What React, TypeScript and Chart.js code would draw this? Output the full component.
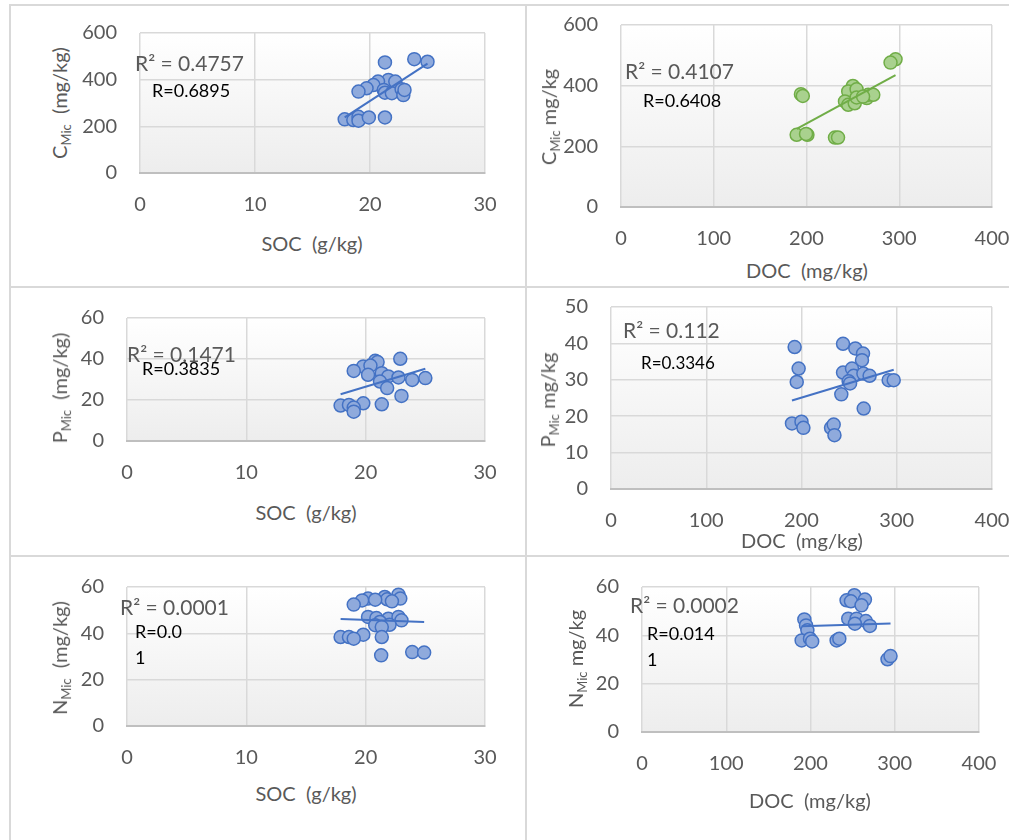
import React, { useEffect, useRef } from "react";
import { Chart, registerables } from "chart.js";

Chart.register(...registerables);

// ---- data ----
const SOC_C_X = [21.3, 23.85, 25.0, 21.6, 22.2, 20.7, 20.3, 19.7, 19.0, 21.2, 21.3, 21.9, 22.75, 22.9, 23.0, 17.8, 18.55, 19.0, 19.0, 19.9, 21.3];
const CMIC_SOC_Y = [474, 488, 477, 399, 392, 392, 377, 363, 349, 356, 344, 342, 359, 334, 356, 230, 227, 241, 224, 238, 238];

const DOC_C_X = [296, 290.6, 194, 196, 189.4, 201, 199.5, 230.7, 234, 250, 245, 254, 241.5, 245, 252, 254, 265, 266.5, 272, 261];
const CMIC_DOC_Y = [487, 476, 372, 366, 238, 238, 241, 229, 229, 399, 381, 388, 348, 337, 342, 361, 359, 370, 370, 364];

const SOC_P_X = [22.9, 20.8, 21.0, 19.8, 20.4, 19.0, 20.2, 21.35, 21.9, 22.75, 23.9, 25.0, 21.2, 21.8, 23.0, 21.35, 19.8, 17.9, 18.6, 19.0, 19.0];
const PMIC_SOC_Y = [40.1, 39.1, 38.5, 36.4, 36.8, 34.2, 32.3, 33.1, 31.5, 31.0, 29.8, 30.7, 29.0, 25.8, 22.0, 17.9, 18.4, 17.3, 17.6, 16.3, 14.3];

const DOC_P_X = [192.8, 243.6, 256.5, 264.6, 263.5, 197, 243.6, 253, 254.8, 249.5, 251, 265, 271.5, 291.5, 296.8, 195, 241.8, 265.3, 190, 200, 202, 231, 233.8, 234.6];
const PMIC_DOC_Y = [39.0, 39.9, 38.6, 37.2, 35.4, 33.1, 32.0, 33.1, 31.1, 29.6, 29.0, 31.7, 31.1, 29.9, 29.9, 29.4, 26.0, 22.1, 18.0, 18.5, 16.8, 16.8, 17.7, 14.8];

const SOC_N_X = [22.75, 22.9, 21.6, 21.8, 20.2, 19.7, 20.8, 19.0, 22.2, 20.2, 20.9, 21.9, 22.75, 23.0, 21.2, 20.8, 22.0, 21.35, 21.35, 19.8, 17.9, 18.6, 19.0, 21.3, 23.9, 24.9];
const NMIC_SOC_Y = [56.7, 55.0, 55.7, 54.7, 55.0, 54.2, 54.5, 52.4, 53.8, 47.1, 46.6, 46.3, 47.1, 45.6, 44.9, 43.5, 43.7, 42.7, 38.4, 39.4, 38.4, 38.4, 37.7, 30.5, 31.9, 31.7];

const DOC_N_X = [252, 242.8, 248, 264.6, 260.6, 192.7, 244.8, 254.7, 265.7, 252.7, 270.5, 194.7, 196.3, 189.5, 199.4, 202, 231, 234.2, 291.4, 295];
const NMIC_DOC_Y = [56.6, 54.5, 54.1, 54.8, 52.4, 46.6, 46.9, 46.9, 45.9, 44.8, 43.9, 44.1, 42.1, 37.9, 38.6, 37.5, 37.9, 38.6, 30.1, 31.4];

const SOC_TICKS = { min: 0, max: 30, step: 10 };
const DOC_TICKS = { min: 0, max: 400, step: 100 };
const C_TICKS = { min: 0, max: 600, step: 200 };
const P_TICKS_SOC = { min: 0, max: 60, step: 20 };
const P_TICKS_DOC = { min: 0, max: 50, step: 10 };
const N_TICKS = { min: 0, max: 60, step: 20 };

const R2_LABELS = ["R² = 0.4757", "R² = 0.4107", "R² = 0.1471", "R² = 0.112", "R² = 0.0001", "R² = 0.0002"];
const R_LABELS = [["R=0.6895"], ["R=0.6408"], ["R=0.3835"], ["R=0.3346"], ["R=0.0", "1"], ["R=0.014", "1"]];
const X_TITLES = ["SOC  (g/kg)", "DOC  (mg/kg)", "SOC  (g/kg)", "DOC  (mg/kg)", "SOC  (g/kg)", "DOC  (mg/kg)"];
const Y_LETTERS = ["C", "C", "P", "P", "N", "N"];
const Y_UNITS = ["  (mg/kg)", " mg/kg", "  (mg/kg)", " mg/kg", "  (mg/kg)", " mg/kg"];

const BLUE = { fill: "#8FAADC", border: "#4472C4" };
const GREEN = { fill: "#A9D18E", border: "#70AD47" };

const FONT = 'Lato, "Open Sans", sans-serif';
const GRAY = "#595959";

type Panel = {
  xs: number[]; ys: number[]; xt: any; yt: any; color: any;
  plot: [number, number, number, number]; // L T R B
  r2: [number, number, number];
  r: [number, number, number, number];
  xTitle: [number, number];
  yTitle: [number, number];
};

const PANELS: Panel[] = [
  { xs: SOC_C_X, ys: CMIC_SOC_Y, xt: SOC_TICKS, yt: C_TICKS, color: BLUE, plot: [140, 33, 485, 173], r2: [135, 62, 21], r: [152, 90, 18, 0], xTitle: [312, 243], yTitle: [61, 103] },
  { xs: DOC_C_X, ys: CMIC_DOC_Y, xt: DOC_TICKS, yt: C_TICKS, color: GREEN, plot: [621, 25, 992, 207], r2: [625, 70, 21], r: [643, 100, 18, 0], xTitle: [807, 270], yTitle: [550, 117] },
  { xs: SOC_P_X, ys: PMIC_SOC_Y, xt: SOC_TICKS, yt: P_TICKS_SOC, color: BLUE, plot: [127, 318, 485, 441], r2: [127, 353, 21], r: [142, 368, 18, 0], xTitle: [306, 512], yTitle: [61, 388] },
  { xs: DOC_P_X, ys: PMIC_DOC_Y, xt: DOC_TICKS, yt: P_TICKS_DOC, color: BLUE, plot: [611, 307, 992, 489], r2: [623, 329, 21], r: [641, 362, 17, 0], xTitle: [802, 540], yTitle: [549, 400] },
  { xs: SOC_N_X, ys: NMIC_SOC_Y, xt: SOC_TICKS, yt: N_TICKS, color: BLUE, plot: [127, 587, 485, 726], r2: [120, 606, 21], r: [135, 631, 18, 26], xTitle: [306, 793], yTitle: [61, 658] },
  { xs: DOC_N_X, ys: NMIC_DOC_Y, xt: DOC_TICKS, yt: N_TICKS, color: BLUE, plot: [642, 587, 979, 732], r2: [630, 604, 21], r: [647, 633, 18, 26], xTitle: [810, 800], yTitle: [577, 659] },
];

const PAD_L = 60, PAD_T = 40, PAD_R = 50, PAD_B = 50;

function fit(xs: number[], ys: number[]) {
  const n = xs.length;
  const mx = xs.reduce((a, b) => a + b, 0) / n;
  const my = ys.reduce((a, b) => a + b, 0) / n;
  let sxy = 0, sxx = 0;
  for (let i = 0; i < n; i++) { sxy += (xs[i] - mx) * (ys[i] - my); sxx += (xs[i] - mx) ** 2; }
  const b = sxy / sxx;
  const a = my - b * mx;
  const x0 = Math.min(...xs), x1 = Math.max(...xs);
  return [{ x: x0, y: a + b * x0 }, { x: x1, y: a + b * x1 }];
}

const bgPlugin = {
  id: "plotBg",
  beforeDraw(chart: any) {
    const { ctx, chartArea: ca } = chart;
    const g = ctx.createLinearGradient(0, ca.top, 0, ca.bottom);
    g.addColorStop(0, "#ffffff");
    g.addColorStop(1, "#ededed");
    ctx.save();
    ctx.fillStyle = g;
    ctx.fillRect(ca.left, ca.top, ca.right - ca.left, ca.bottom - ca.top);
    ctx.restore();
  },
};

function PanelChart({ p }: { p: Panel }) {
  const ref = useRef<HTMLCanvasElement>(null);
  const [L, T, R, B] = p.plot;
  const w = R - L + PAD_L + PAD_R;
  const h = B - T + PAD_T + PAD_B;
  useEffect(() => {
    const pts = p.xs.map((x, i) => ({ x, y: p.ys[i] }));
    const chart = new Chart(ref.current!, {
      type: "scatter",
      data: {
        datasets: [
          { type: "line", data: fit(p.xs, p.ys), borderColor: p.color.border, borderWidth: 2, pointRadius: 0, fill: false } as any,
          { data: pts, backgroundColor: p.color.fill, borderColor: p.color.border, pointRadius: 6.5, pointBorderWidth: 1.5 },
        ],
      },
      options: {
        animation: false,
        responsive: false,
        events: [],
        layout: { padding: { left: 0, top: PAD_T, right: PAD_R, bottom: 0 } },
        plugins: { legend: { display: false }, tooltip: { enabled: false } },
        scales: {
          x: {
            type: "linear", min: p.xt.min, max: p.xt.max,
            afterFit: (s: any) => { s.height = PAD_B; },
            ticks: { stepSize: p.xt.step, autoSkip: false, maxRotation: 0, padding: 20, color: GRAY, font: { family: FONT, size: 20 } },
            grid: { color: "#d9d9d9", lineWidth: 1.5, drawTicks: false },
            border: { display: true, color: "#bfbfbf", width: 2 },
          },
          y: {
            type: "linear", min: p.yt.min, max: p.yt.max,
            afterFit: (s: any) => { s.width = PAD_L; },
            ticks: { stepSize: p.yt.step, padding: 23, color: GRAY, font: { family: FONT, size: 20 } },
            grid: { color: "#d9d9d9", lineWidth: 1.5, drawTicks: false },
            border: { display: false },
          },
        },
      },
      plugins: [bgPlugin],
    });
    return () => chart.destroy();
  }, []);
  return <canvas ref={ref} width={w} height={h} style={{ position: "absolute", left: L - PAD_L, top: T - PAD_T, width: w, height: h }} />;
}

const textBase: React.CSSProperties = { position: "absolute", whiteSpace: "pre", fontFamily: FONT, lineHeight: 1 };

export default function App() {
  const line = "#d9d9d9";
  return (
    <div style={{ position: "absolute", left: 0, top: 0, width: 1009, height: 840, overflow: "hidden", background: "#fff" }}>
      <div style={{ position: "absolute", left: 9, top: 4, width: 2, height: 836, background: line }} />
      <div style={{ position: "absolute", left: 9, top: 4, width: 1000, height: 2, background: line }} />
      <div style={{ position: "absolute", left: 525, top: 4, width: 2, height: 836, background: line }} />
      <div style={{ position: "absolute", left: 9, top: 286, width: 1000, height: 2, background: line }} />
      <div style={{ position: "absolute", left: 9, top: 555, width: 1000, height: 2, background: line }} />
      {PANELS.map((p, i) => (
        <React.Fragment key={i}>
          <PanelChart p={p} />
          <div style={{ ...textBase, left: p.r2[0], top: p.r2[1], transform: "translateY(-50%)", fontSize: p.r2[2], color: GRAY }}>{R2_LABELS[i]}</div>
          {R_LABELS[i].map((t, j) => (
            <div key={j} style={{ ...textBase, left: p.r[0], top: p.r[1] + j * p.r[3], transform: "translateY(-50%)", fontSize: p.r[2], color: "#000" }}>{t}</div>
          ))}
          <div style={{ ...textBase, left: p.xTitle[0], top: p.xTitle[1], transform: "translate(-50%,-50%)", fontSize: 20, color: GRAY }}>{X_TITLES[i]}</div>
          <div style={{ ...textBase, left: p.yTitle[0], top: p.yTitle[1], transform: "translate(-50%,-50%) rotate(-90deg)", fontSize: 20, color: GRAY }}>
            {Y_LETTERS[i]}<sub style={{ fontSize: 13, verticalAlign: "-0.3em" }}>Mic</sub>{Y_UNITS[i]}
          </div>
        </React.Fragment>
      ))}
    </div>
  );
}
